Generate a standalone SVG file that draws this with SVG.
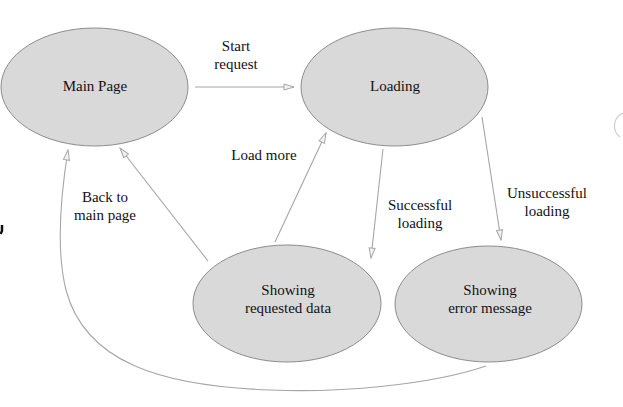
<svg xmlns="http://www.w3.org/2000/svg" width="623" height="407" viewBox="0 0 623 407">
<style>
.node ellipse{fill:#d9d9d9;stroke:#8c8c8c;stroke-width:1}
text{font-family:"Times New Roman",Times,"Liberation Serif","Noto Serif","DejaVu Serif",serif;font-size:15px;fill:#111;text-anchor:middle}
.edge{fill:none;stroke:#a6a6a6;stroke-width:1.1}
</style>
<defs>
<marker id="arr" viewBox="0 0 12 8" refX="11" refY="4" markerWidth="12" markerHeight="8" markerUnits="userSpaceOnUse" orient="auto">
<path d="M1,1 L11,4 L1,7 Z" fill="#f2f2f2" stroke="#a6a6a6" stroke-width="1"/>
</marker>
</defs>
<rect width="623" height="407" fill="#fff"/>
<g id="connectors">
<path class="edge" d="M195,87 L294,87" marker-end="url(#arr)"/>
<path class="edge" d="M275,242 L326,133" marker-end="url(#arr)"/>
<path class="edge" d="M208,261 L120,148" marker-end="url(#arr)"/>
<path class="edge" d="M383,149 L371,258" marker-end="url(#arr)"/>
<path class="edge" d="M482,117 L501,240" marker-end="url(#arr)"/>
<path class="edge" d="M486,366 C430,385 340,393 270,390 C160,386 85,362 66,290 C56,250 60,200 68,150" marker-end="url(#arr)"/>
<text x="236" y="51">Start</text>
<text x="236" y="69">request</text>
<text x="264" y="160">Load more</text>
<text x="105" y="202">Back to</text>
<text x="105" y="220">main page</text>
<text x="420" y="210">Successful</text>
<text x="420" y="228">loading</text>
<text x="547" y="198">Unsuccessful</text>
<text x="547" y="216">loading</text>
</g>
<g id="main-page" class="node">
<ellipse cx="94.5" cy="87" rx="93.5" ry="59"/>
<text x="95" y="91">Main Page</text>
</g>
<g id="loading" class="node">
<ellipse cx="394.5" cy="87" rx="93.5" ry="59"/>
<text x="395" y="91">Loading</text>
</g>
<g id="showing-data" class="node">
<ellipse cx="287" cy="303.5" rx="94" ry="58.5"/>
<text x="288" y="295">Showing</text>
<text x="288" y="313">requested data</text>
</g>
<g id="showing-error" class="node">
<ellipse cx="488.5" cy="304" rx="93.5" ry="58"/>
<text x="490" y="295">Showing</text>
<text x="490" y="313">error message</text>
</g>
<path d="M623,113 A14,14 0 0 0 620,137" fill="none" stroke="#cfcfcf" stroke-width="1.2"/>
<path d="M2,225 L2,231 L0.5,234" fill="none" stroke="#111" stroke-width="2.5"/>
</svg>
